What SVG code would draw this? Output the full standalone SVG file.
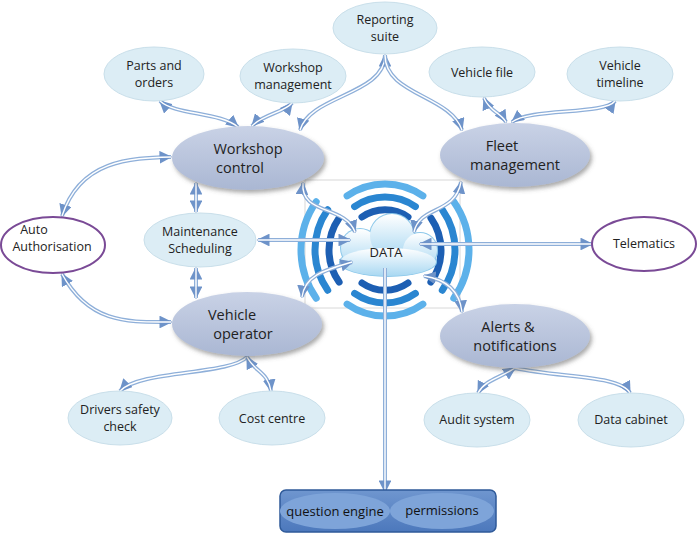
<svg xmlns="http://www.w3.org/2000/svg" xmlns:xlink="http://www.w3.org/1999/xlink" width="699" height="533" viewBox="0 0 699 533">
<style>
text{font-family:"Open Sans","Liberation Sans",sans-serif;font-size:12.5px;fill:#222;text-anchor:middle}
.big{font-size:14.5px}
.lt{fill:#dcedf5;stroke:#c9dfea;stroke-width:1}
.main{fill:url(#gm);filter:url(#sh)}
.pur{fill:#fff;stroke:#7a4a96;stroke-width:2}
.c{fill:none;stroke:#8eafd9;stroke-width:4}
.ci{fill:none;stroke:#fff;stroke-width:1.4}
.w{fill:none;stroke-width:7;stroke-linecap:round}
</style>
<defs>
<linearGradient id="gm" x1="0" y1="0" x2="0" y2="1"><stop offset="0" stop-color="#c9d2e6"/><stop offset="1" stop-color="#aab7d3"/></linearGradient>
<linearGradient id="gc" x1="0" y1="0" x2="0" y2="1"><stop offset="0" stop-color="#ffffff"/><stop offset="1" stop-color="#a9d8f2"/></linearGradient>
<linearGradient id="gb" x1="0" y1="0" x2="0" y2="1"><stop offset="0" stop-color="#6f96cf"/><stop offset="1" stop-color="#4c78bc"/></linearGradient>
<filter id="sh" x="-20%" y="-20%" width="140%" height="150%"><feDropShadow dx="2" dy="3" stdDeviation="2" flood-color="#555" flood-opacity="0.5"/></filter>
<marker id="a" viewBox="0 0 10 10" refX="9" refY="5" markerWidth="3.2" markerHeight="3.2" orient="auto-start-reverse"><path d="M0,0L10,5L0,10z" fill="#6e93c9"/></marker>
<path id="p1" d="M385,55 C385,95 310,95 300,130"/>
<path id="p2" d="M385,55 C385,95 450,95 462,130"/>
<path id="p3" d="M160,101 C175,115 220,112 238,127"/>
<path id="p4" d="M292,103 C285,112 262,115 252,126"/>
<path id="p5" d="M484,98 C490,112 500,112 506,122"/>
<path id="p6" d="M615,101 C605,115 530,108 512,122"/>
<path id="p7" d="M62,216 C80,160 130,158 171,157"/>
<path id="p8" d="M62,274 C90,325 130,322 171,322"/>
<path id="p9" d="M196,183 L196,212"/>
<path id="p10" d="M196,268 L196,298"/>
<path id="p11" d="M258,240 L350,240"/>
<path id="p12" d="M592,244 L420,244"/>
<path id="p13" d="M303,183 C300,215 345,205 355,232"/>
<path id="p14" d="M461,182 C455,215 420,205 414,232"/>
<path id="p15" d="M352,262 C325,270 305,275 302,297"/>
<path id="p16" d="M424,276 C450,280 460,295 462,312"/>
<path id="p17" d="M385,268 L385,492"/>
<path id="p18" d="M247,357 C230,375 140,370 120,391"/>
<path id="p19" d="M247,357 C255,372 268,372 271,391"/>
<path id="p20" d="M515,368 C500,378 485,380 478,393"/>
<path id="p21" d="M515,368 C560,378 620,375 630,393"/>
</defs>
<rect width="699" height="533" fill="#fff"/>
<rect x="305" y="180" width="155" height="128" fill="none" stroke="#d8d8d8" stroke-width="1"/>
<g id="waves">
<path class="w" stroke="#1d5fb3" d="M362,217 A40,40 0 0 1 408,217"/>
<path class="w" stroke="#2a86d1" d="M354.6,206.6 A53,53 0 0 1 415.4,206.6"/>
<path class="w" stroke="#5cb1ea" d="M347.1,195.9 A66,66 0 0 1 422.9,195.9"/>
<path class="w" stroke="#1d5fb3" d="M362,283 A40,40 0 0 0 408,283"/>
<path class="w" stroke="#2a86d1" d="M354.6,293.4 A53,53 0 0 0 415.4,293.4"/>
<path class="w" stroke="#5cb1ea" d="M347.1,304.1 A66,66 0 0 0 422.9,304.1"/>
<path class="w" stroke="#1d5fb3" d="M339.1,217.9 A56,56 0 0 0 339.1,282.1"/>
<path class="w" stroke="#2a86d1" d="M327.7,209.8 A70,70 0 0 0 327.7,290.2"/>
<path class="w" stroke="#5cb1ea" d="M316.2,201.8 A84,84 0 0 0 316.2,298.2"/>
<path class="w" stroke="#1d5fb3" d="M430.9,217.9 A56,56 0 0 1 430.9,282.1"/>
<path class="w" stroke="#2a86d1" d="M442.3,209.8 A70,70 0 0 1 442.3,290.2"/>
<path class="w" stroke="#5cb1ea" d="M453.8,201.8 A84,84 0 0 1 453.8,298.2"/>
</g>
<g id="cloud">
<g fill="#8cc8ea"><circle cx="360" cy="248" r="20"/><circle cx="392" cy="236" r="23"/><circle cx="420" cy="250" r="18"/><ellipse cx="388" cy="262" rx="49" ry="15"/></g>
<g fill="url(#gc)"><circle cx="360" cy="248" r="19"/><circle cx="392" cy="236" r="22"/><circle cx="420" cy="250" r="17"/><ellipse cx="388" cy="262" rx="48" ry="14"/></g>
<text x="386" y="257" style="font-size:13px">DATA</text>
</g>
<g id="connectors">
<use xlink:href="#p1" class="c" marker-start="url(#a)" marker-end="url(#a)"/><use xlink:href="#p1" class="ci"/>
<use xlink:href="#p2" class="c" marker-end="url(#a)"/><use xlink:href="#p2" class="ci"/>
<use xlink:href="#p3" class="c" marker-start="url(#a)" marker-end="url(#a)"/><use xlink:href="#p3" class="ci"/>
<use xlink:href="#p4" class="c" marker-start="url(#a)" marker-end="url(#a)"/><use xlink:href="#p4" class="ci"/>
<use xlink:href="#p5" class="c" marker-start="url(#a)" marker-end="url(#a)"/><use xlink:href="#p5" class="ci"/>
<use xlink:href="#p6" class="c" marker-start="url(#a)" marker-end="url(#a)"/><use xlink:href="#p6" class="ci"/>
<use xlink:href="#p7" class="c" marker-start="url(#a)" marker-end="url(#a)"/><use xlink:href="#p7" class="ci"/>
<use xlink:href="#p8" class="c" marker-start="url(#a)" marker-end="url(#a)"/><use xlink:href="#p8" class="ci"/>
<use xlink:href="#p9" class="c" marker-start="url(#a)" marker-end="url(#a)"/><use xlink:href="#p9" class="ci"/>
<use xlink:href="#p10" class="c" marker-start="url(#a)" marker-end="url(#a)"/><use xlink:href="#p10" class="ci"/>
<use xlink:href="#p11" class="c" marker-start="url(#a)" marker-end="url(#a)"/><use xlink:href="#p11" class="ci"/>
<use xlink:href="#p12" class="c" marker-start="url(#a)" marker-end="url(#a)"/><use xlink:href="#p12" class="ci"/>
<use xlink:href="#p13" class="c" marker-start="url(#a)" marker-end="url(#a)"/><use xlink:href="#p13" class="ci"/>
<use xlink:href="#p14" class="c" marker-start="url(#a)" marker-end="url(#a)"/><use xlink:href="#p14" class="ci"/>
<use xlink:href="#p15" class="c" marker-start="url(#a)" marker-end="url(#a)"/><use xlink:href="#p15" class="ci"/>
<use xlink:href="#p16" class="c" marker-start="url(#a)" marker-end="url(#a)"/><use xlink:href="#p16" class="ci"/>
<use xlink:href="#p17" class="c" marker-end="url(#a)"/><use xlink:href="#p17" class="ci"/>
<use xlink:href="#p18" class="c" marker-end="url(#a)"/><use xlink:href="#p18" class="ci"/>
<use xlink:href="#p19" class="c" marker-start="url(#a)" marker-end="url(#a)"/><use xlink:href="#p19" class="ci"/>
<use xlink:href="#p20" class="c" marker-start="url(#a)" marker-end="url(#a)"/><use xlink:href="#p20" class="ci"/>
<use xlink:href="#p21" class="c" marker-end="url(#a)"/><use xlink:href="#p21" class="ci"/>
</g>
<g id="reporting"><ellipse class="lt" cx="385" cy="28" rx="52" ry="26"/><text x="385" y="24">Reporting</text><text x="385" y="41">suite</text></g>
<g id="parts"><ellipse class="lt" cx="154" cy="74" rx="50" ry="27"/><text x="154" y="70">Parts and</text><text x="154" y="87">orders</text></g>
<g id="wsmgmt"><ellipse class="lt" cx="293" cy="76" rx="53" ry="27"/><text x="293" y="72">Workshop</text><text x="293" y="89">management</text></g>
<g id="vfile"><ellipse class="lt" cx="482" cy="72" rx="53" ry="25"/><text x="482" y="77">Vehicle file</text></g>
<g id="vtimeline"><ellipse class="lt" cx="620" cy="74" rx="53" ry="27"/><text x="620" y="70">Vehicle</text><text x="620" y="87">timeline</text></g>
<g id="wscontrol"><ellipse class="main" cx="248" cy="158" rx="76" ry="32"/><text class="big" x="248" y="154">Workshop</text><text class="big" x="240" y="173">control</text></g>
<g id="fleet"><ellipse class="main" cx="515" cy="155" rx="75" ry="32"/><text class="big" x="502" y="151">Fleet</text><text class="big" x="515" y="170">management</text></g>
<g id="auto"><ellipse class="pur" cx="53" cy="245" rx="52" ry="28"/><text x="34" y="234">Auto</text><text x="52" y="251">Authorisation</text></g>
<g id="maint"><ellipse class="lt" cx="200" cy="240" rx="56" ry="27"/><text x="200" y="236">Maintenance</text><text x="200" y="253">Scheduling</text></g>
<g id="telematics"><ellipse class="pur" cx="644" cy="244" rx="52" ry="27"/><text x="644" y="248">Telematics</text></g>
<g id="operator"><ellipse class="main" cx="247" cy="324" rx="75" ry="32"/><text class="big" x="232" y="320">Vehicle</text><text class="big" x="243" y="339">operator</text></g>
<g id="alerts"><ellipse class="main" cx="515" cy="336" rx="75" ry="32"/><text class="big" x="508" y="332">Alerts &amp;</text><text class="big" x="515" y="351">notifications</text></g>
<g id="drivers"><ellipse class="lt" cx="120" cy="418" rx="52" ry="27"/><text x="120" y="414">Drivers safety</text><text x="120" y="431">check</text></g>
<g id="cost"><ellipse class="lt" cx="272" cy="418" rx="53" ry="27"/><text x="272" y="423">Cost centre</text></g>
<g id="audit"><ellipse class="lt" cx="477" cy="420" rx="53" ry="27"/><text x="477" y="424">Audit system</text></g>
<g id="cabinet"><ellipse class="lt" cx="631" cy="420" rx="53" ry="27"/><text x="631" y="424">Data cabinet</text></g>
<g id="engine">
<rect x="280" y="490" width="216" height="42" rx="6" fill="url(#gb)" stroke="#2f5a99" stroke-width="1.5"/>
<ellipse cx="335" cy="511" rx="55" ry="18" fill="#7ea4d9"/>
<ellipse cx="442" cy="511" rx="52" ry="18" fill="#7ea4d9"/>
<text x="335" y="516" style="font-size:13px;fill:#111">question engine</text>
<text x="442" y="515" style="font-size:13px;fill:#111">permissions</text>
</g>
</svg>
